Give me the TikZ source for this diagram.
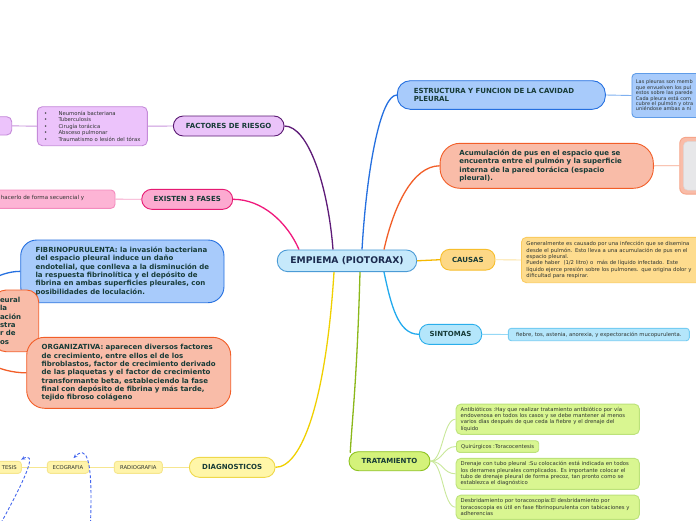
\documentclass[tikz,border=0pt]{standalone}
\usepackage{fontspec}
\setmainfont{DejaVu Sans}
\usetikzlibrary{arrows.meta}
\definecolor{txt}{HTML}{173B37}
\definecolor{txts}{HTML}{2E3430}
\definecolor{cenF}{HTML}{C6E9FB}
\definecolor{cenD}{HTML}{4B9BD6}
\definecolor{cenT}{HTML}{1B2A4E}
\definecolor{blueF}{HTML}{A8CBFB}
\definecolor{blueD}{HTML}{2570E0}
\definecolor{blueL}{HTML}{7FB0F0}
\definecolor{blueDetD}{HTML}{5F9CE8}
\definecolor{salF}{HTML}{F9BCA8}
\definecolor{salD}{HTML}{F25E28}
\definecolor{salL}{HTML}{F6A58A}
\definecolor{grayF}{HTML}{E7E7E9}
\definecolor{grayD}{HTML}{DADADC}
\definecolor{yelF}{HTML}{FDD886}
\definecolor{yelD}{HTML}{F7BE2C}
\definecolor{yelDetF}{HTML}{FEDC8E}
\definecolor{yelDetD}{HTML}{FACB60}
\definecolor{yelConn}{HTML}{F5B800}
\definecolor{yelLink}{HTML}{FCE2A0}
\definecolor{cyF}{HTML}{B4E6FB}
\definecolor{cyD}{HTML}{2AAEEB}
\definecolor{cyDetD}{HTML}{75CCF2}
\definecolor{cyConn}{HTML}{22AAEE}
\definecolor{cyLink}{HTML}{95D8F6}
\definecolor{grF}{HTML}{D4F27A}
\definecolor{grD}{HTML}{8DC21F}
\definecolor{grDetF}{HTML}{D9F691}
\definecolor{grDetD}{HTML}{BCE27A}
\definecolor{grConn}{HTML}{8BB81A}
\definecolor{grLink}{HTML}{C9E89A}
\definecolor{dgF}{HTML}{FFF6A8}
\definecolor{dgD}{HTML}{EFD84A}
\definecolor{dgDetF}{HTML}{FFF4AA}
\definecolor{dgDetD}{HTML}{F6E68E}
\definecolor{dgConn}{HTML}{F0D000}
\definecolor{dgLink}{HTML}{F6E690}
\definecolor{puF}{HTML}{EAC3F9}
\definecolor{puD}{HTML}{5A1A72}
\definecolor{puDetF}{HTML}{ECC3FB}
\definecolor{puDetD}{HTML}{C58BD9}
\definecolor{puConn}{HTML}{5E1B78}
\definecolor{puLink}{HTML}{C994DC}
\definecolor{pkF}{HTML}{FCAAD0}
\definecolor{pkD}{HTML}{E61A72}
\definecolor{pkDetF}{HTML}{FDB4D5}
\definecolor{pkDetD}{HTML}{F48BBE}
\definecolor{pkConn}{HTML}{F0187C}
\definecolor{pkLink}{HTML}{F7A4CA}
\definecolor{dashblue}{HTML}{4466EE}
\begin{document}
\begin{tikzpicture}[x=1pt,y=-1pt,
  bx/.style={draw, line width=0.9pt, inner ysep=0pt, inner xsep=0pt, align=left, text=txt},
  bold7/.style={font=\fontsize{7}{8.33}\selectfont\bfseries},
  small/.style={font=\fontsize{5.3}{6.3}\selectfont, text=txts},
  conn/.style={line width=1.3pt},
  link/.style={line width=0.9pt},
  dashedlink/.style={line width=0.9pt, dash pattern=on 3pt off 2pt, draw=dashblue, -{Stealth[length=4pt,width=3.5pt]}}
]
\fill[white] (0,0) rectangle (696,520);
\useasboundingbox (0,0) rectangle (696,520);
\clip (0,0) rectangle (696,520);

% central
\node[bx, fill=cenF, draw=cenD, text=cenT, rounded corners=10.5pt, minimum width=139.4pt, minimum height=21.7pt, font=\fontsize{9.2}{11}\selectfont\bfseries] (central) at (347,260.8) {EMPIEMA (PIOTORAX)};

% estructura
\node[bx, bold7, fill=blueF, draw=blueD, rounded corners=13pt, minimum width=208pt, minimum height=28.6pt, inner xsep=16.5pt, text width=175pt] (estruct) at (501.3,95) {ESTRUCTURA Y FUNCION DE LA CAVIDAD\\PLEURAL};
\node[bx, font=\fontsize{5}{5.4}\selectfont, text=txts, fill=blueF, draw=blueDetD, rounded corners=4pt, minimum height=44pt, inner xsep=4pt, text width=200pt, anchor=west] (topright) at (631.5,95.5) {Las pleuras son memb\\que envuelven los pul\\estos sobre las parede\\Cada pleura está com\\cubre el pulmón y otra\\uniéndose ambas a ni};

% acumulacion
\node[bx, bold7, fill=salF, draw=salD, rounded corners=20pt, minimum width=213.3pt, minimum height=45pt, inner xsep=19.3pt, text width=174.7pt] (acum) at (546.7,165.8) {\mbox{Acumulación de pus en el espacio que se}\\\mbox{encuentra entre el pulmón y la superficie}\\\mbox{interna de la pared torácica (espacio}\\pleural).};
\node[bx, fill=salF, draw=salL, rounded corners=6pt, minimum height=56.7pt, minimum width=80pt, anchor=west] (grayout) at (679.3,165.7) {};
\node[bx, fill=grayF, draw=grayD, line width=0.5pt, rounded corners=4pt, minimum height=48.3pt, minimum width=70pt, anchor=west] (grayin) at (683.3,165.85) {};

% causas
\node[bx, bold7, fill=yelF, draw=yelD, rounded corners=9pt, minimum width=54.3pt, minimum height=20.7pt] (causas) at (467.8,259.7) {CAUSAS};
\node[bx, small, fill=yelDetF, draw=yelDetD, rounded corners=5pt, minimum height=45.4pt, inner xsep=5pt, text width=200pt, anchor=west] (causasdet) at (521,260) {Generalmente es causado por una infección que se disemina\\desde el pulmón. Esto lleva a una acumulación de pus en el\\espacio pleural.\\Puede haber\ \ (1/2 litro) o\ \ más de líquido infectado. Este\\líquido ejerce presión sobre los pulmones. que origina dolor y\\dificultad para respirar.};

% sintomas
\node[bx, bold7, fill=cyF, draw=cyD, rounded corners=9.5pt, minimum width=62.4pt, minimum height=20pt] (sint) at (450.5,334.3) {SINTOMAS};
\node[bx, small, fill=cyF, draw=cyDetD, rounded corners=3pt, minimum width=181pt, minimum height=12.4pt] (sintdet) at (598.8,334.5) {fiebre, tos, astenia, anorexia, y expectoración mucopurulenta.};

% tratamiento
\node[bx, bold7, fill=grF, draw=grD, rounded corners=9.5pt, minimum width=81pt, minimum height=19pt] (trat) at (389.5,461.2) {TRATAMIENTO};
\node[bx, small, fill=grDetF, draw=grDetD, rounded corners=5pt, minimum width=183.3pt, minimum height=30.3pt, inner xsep=4.7pt, text width=174pt] (t1) at (547.7,419.2) {\mbox{Antibióticos :Hay que realizar tratamiento antibiótico por vía}\\\mbox{endovenosa en todos los casos y se debe mantener al menos}\\\mbox{varios días después de que ceda la fiebre y el drenaje del}\\líquido};
\node[bx, small, fill=grDetF, draw=grDetD, rounded corners=3pt, minimum height=11.6pt, inner xsep=4.7pt, anchor=west] (t2) at (456,446.5) {Quirúrgicos :Toracocentesis};
\node[bx, small, fill=grDetF, draw=grDetD, rounded corners=5pt, minimum width=183.3pt, minimum height=31pt, inner xsep=4.7pt, text width=174pt] (t3) at (547.7,473.8) {\mbox{Drenaje con tubo pleural :Su colocación está indicada en todos}\\\mbox{los derrames pleurales complicados. Es importante colocar el}\\\mbox{tubo de drenaje pleural de forma precoz, tan pronto como se}\\establezca el diagnóstico};
\node[bx, small, fill=grDetF, draw=grDetD, rounded corners=5pt, minimum width=183.3pt, minimum height=24.3pt, inner xsep=4.7pt, text width=174pt] (t4) at (547.7,507.2) {\mbox{Desbridamiento por toracoscopia:El desbridamiento por}\\\mbox{toracoscopia es útil en fase fibrinopurulenta con tabicaciones y}\\adherencias};

% diagnosticos
\node[bx, bold7, fill=dgF, draw=dgD, rounded corners=10pt, minimum width=85.7pt, minimum height=20pt] (diag) at (232.2,467.3) {DIAGNOSTICOS};
\node[bx, small, fill=dgDetF, draw=dgDetD, rounded corners=3pt, minimum width=48pt, minimum height=12pt] (radio) at (138.3,467.3) {RADIOGRAFIA};
\node[bx, small, fill=dgDetF, draw=dgDetD, rounded corners=3pt, minimum width=41.4pt, minimum height=12pt] (eco) at (68,467.3) {ECOGRAFIA};
\node[bx, small, fill=dgDetF, draw=dgDetD, rounded corners=3pt, minimum height=12pt, inner xsep=4.6pt, text width=18.1pt, align=right] (tesis) at (7.65,467.3) {TESIS};

% factores
\node[bx, bold7, fill=puF, draw=puD, rounded corners=10pt, minimum width=110.7pt, minimum height=20pt] (factores) at (228.7,126) {FACTORES DE RIESGO};
\node[bx, font=\fontsize{5.3}{6.5}\selectfont, text=txts, fill=puDetF, draw=puDetD, rounded corners=5pt, minimum width=110pt, minimum height=39pt] (list) at (92.3,126.2) {\makebox[14.4pt][l]{\textbullet}Neumonía bacteriana\\\makebox[14.4pt][l]{\textbullet}Tuberculosis\\\makebox[14.4pt][l]{\textbullet}Cirugía torácica\\\makebox[14.4pt][l]{\textbullet}Absceso pulmonar\\\makebox[14.4pt][l]{\textbullet}Traumatismo o lesión del tórax};
\node[bx, fill=puDetF, draw=puDetD, rounded corners=5pt, minimum width=17.7pt, minimum height=18.3pt] (smallpu) at (2.85,125.85) {};

% fases
\node[bx, bold7, fill=pkF, draw=pkD, rounded corners=10pt, minimum width=91pt, minimum height=20pt] (fases) at (187.2,199.3) {EXISTEN 3 FASES};
\node[bx, font=\fontsize{5.5}{6.5}\selectfont, text=txts, fill=pkDetF, draw=pkDetD, rounded corners=4pt, minimum height=18.3pt, inner xsep=7pt, text width=107pt] (pinkdet) at (54.5,199.15) {\raisebox{2.5pt}{hacerlo de forma secuencial y}};

% phases
\node[bx, bold7, fill=blueF, draw=blueD, rounded corners=16pt, minimum width=203.3pt, minimum height=62.7pt] (fibrino) at (122.35,271.35) {FIBRINOPURULENTA: la invasión bacteriana\\del espacio pleural induce un daño\\endotelial, que conlleva a la disminución de\\la respuesta fibrinolítica y el depósito de\\fibrina en ambas superficies pleurales, con\\posibilidades de loculación.};
\node[bx, bold7, fill=salF, draw=salD, rounded corners=12pt, minimum width=44.7pt, minimum height=61.7pt, inner xsep=6pt, text width=32.7pt] (exud) at (16.35,320.85) {eural\\la\\ación\\stra\\r de\\os};
\node[bx, bold7, fill=salF, draw=salD, rounded corners=18pt, minimum width=204pt, minimum height=71pt] (organiz) at (128.7,372.8) {ORGANIZATIVA: aparecen diversos factores\\de crecimiento, entre ellos el de los\\fibroblastos, factor de crecimiento derivado\\de las plaquetas y el factor de crecimiento\\transformante beta, estableciendo la fase\\final con depósito de fibrina y más tarde,\\tejido fibroso colágeno};

% main connectors
\draw[conn, puConn] ([xshift=-14pt]central.north) .. controls (328,185) and (308,126) .. (factores.east);
\draw[conn, pkConn] ([xshift=-48pt]central.north) .. controls (287,222) and (262,199.3) .. (fases.east);
\draw[conn, blueD] ([xshift=15pt]central.north) .. controls (367,165) and (381,95) .. (estruct.west);
\draw[conn, salD] ([xshift=37pt]central.north) .. controls (394,205) and (413,166) .. (acum.west);
\draw[conn, yelConn] (central.east) -- (causas.west);
\draw[conn, cyConn] ([xshift=37pt]central.south) .. controls (391,305) and (398,334.3) .. (sint.west);
\draw[conn, grConn] ([xshift=13pt]central.south) .. controls (357,380) and (352,420) .. ([xshift=1.7pt,yshift=-1.5pt]trat.north west);
\draw[conn, dgConn] ([xshift=-13pt]central.south) .. controls (326,400) and (302,467.3) .. (diag.east);

% links
\draw[link, blueL] (estruct.east) -- (topright.west);
\draw[link, salL] (acum.east) -- (grayout.west);
\draw[link, yelLink] (causas.east) -- (causasdet.west);
\draw[link, cyLink] (sint.east) -- (sintdet.west);
\draw[link, grLink] (trat.east) .. controls (443,461.2) and (443,419.2) .. (t1.west);
\draw[link, grLink] (trat.east) .. controls (443,461.2) and (443,446.5) .. (t2.west);
\draw[link, grLink] (trat.east) .. controls (443,461.2) and (443,473.8) .. (t3.west);
\draw[link, grLink] (trat.east) .. controls (443,461.2) and (443,507.2) .. (t4.west);
\draw[link, dgLink] (diag.west) -- (radio.east);
\draw[link, dgLink] (radio.west) -- (eco.east);
\draw[link, dgLink] (eco.west) -- (tesis.east);
\draw[link, puLink] (factores.west) -- (list.east);
\draw[link, puLink] (list.west) -- (smallpu.east);
\draw[link, pkLink] (fases.west) -- (pinkdet.east);

% left phase connectors
\coordinate (fbsrc) at (-60,330);
\coordinate (orsrc) at (-60,320);
\draw[conn, blueD] (fbsrc) .. controls (-30,285) and (0,271.3) .. (fibrino.west);
\draw[conn, salD] (orsrc) .. controls (-30,360) and (0,372.8) .. (organiz.west);

% dashed arrows
\coordinate (d1) at (90.5,523);
\coordinate (d2) at (1,523);
\draw[dashedlink] (d1) .. controls (93,455) and (86,446) .. ([xshift=5.5pt,yshift=2.8pt]eco.north);
\draw[dashedlink] (d2) .. controls (30,470) and (36,452) .. ([xshift=-0.6pt,yshift=1.3pt]tesis.north east);
\end{tikzpicture}
\end{document}
